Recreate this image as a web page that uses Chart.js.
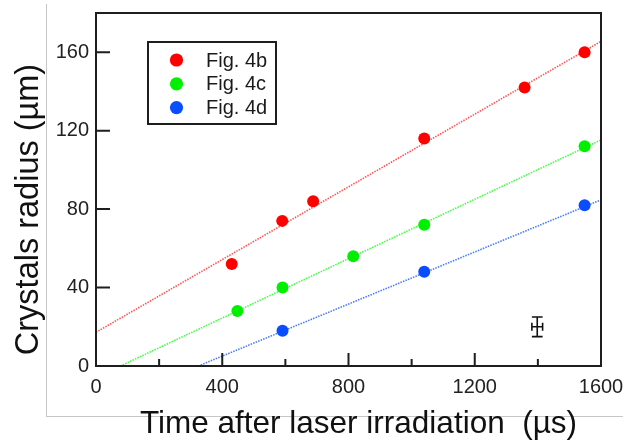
<!DOCTYPE html>
<html><head><meta charset="utf-8">
<script src="https://cdn.jsdelivr.net/npm/chart.js@4"></script>
<style>
html,body{margin:0;padding:0;background:#fff;}
#wrap{position:relative;width:639px;height:445px;overflow:hidden;}
#frame{position:absolute;left:46px;top:4px;width:577px;height:413px;border-left:1px solid #c6c6c6;border-bottom:1px solid #c6c6c6;box-sizing:border-box;}
canvas{position:absolute;left:0;top:0;}
</style></head><body>
<div id="wrap"><div id="frame"></div><canvas id="c" width="639" height="445"></canvas></div>
<script>
// ---- data ----
const seriesLabels = ['Fig. 4b', 'Fig. 4c', 'Fig. 4d'];
const timesB = [430, 590, 688, 1040, 1358, 1548];
const radiusB = [52, 74, 84, 116, 142, 160];
const timesC = [448, 591, 815, 1040, 1548];
const radiusC = [28, 40, 56, 72, 112];
const timesD = [591, 1040, 1548];
const radiusD = [18, 48, 82];
// linear fits (end points)
const fitTimesB = [0, 1600];
const fitRadiusB = [17.2, 165.5];
const fitTimesC = [77, 1600];
const fitRadiusC = [0, 115.3];
const fitTimesD = [324, 1600];
const fitRadiusD = [0, 84.7];
// typical error bar
const errTime = [1398];
const errRadius = [20];
const errTimeHalf = [17];
const errRadiusHalf = [5];
// ticks
const xTicks = [0, 400, 800, 1200, 1600];
const xMinorTicks = [200, 600, 1000, 1400];
const yTicks = [0, 40, 80, 120, 160];
const xTitle = 'Time after laser irradiation  (µs)';
const yTitle = 'Crystals radius (µm)';

const FONT = "'Liberation Sans', Arial, sans-serif";
const pointColors = ['#ff0000', '#00f000', '#0a4cff'];
const lineColors = ['#ff5555', '#44ff44', '#4a7cff'];

const pts = (xs, ys) => xs.map((v, i) => ({x: v, y: ys[i]}));

const pointSets = [[timesB, radiusB], [timesC, radiusC], [timesD, radiusD]];
const fitSets = [[fitTimesB, fitRadiusB], [fitTimesC, fitRadiusC], [fitTimesD, fitRadiusD]];

const datasets = [];
pointSets.forEach((s, i) => datasets.push({
  label: seriesLabels[i], data: pts(s[0], s[1]), showLine: false,
  backgroundColor: pointColors[i], borderColor: pointColors[i],
  pointRadius: 6, pointBorderWidth: 0
}));
fitSets.forEach((s, i) => datasets.push({
  label: seriesLabels[i] + ' fit', data: pts(s[0], s[1]), showLine: true,
  borderColor: lineColors[i], borderWidth: 1.6, borderDash: [1.5, 1.2],
  pointRadius: 0, fill: false
}));

const decor = {
  id: 'decor',
  afterDraw(chart) {
    const {ctx, chartArea: a, scales: {x, y}} = chart;
    ctx.save();
    // frame
    ctx.strokeStyle = '#1e1e1e'; ctx.lineWidth = 2;
    ctx.strokeRect(a.left, a.top, a.right - a.left, a.bottom - a.top);
    // inward ticks
    ctx.beginPath();
    x.ticks.forEach(t => { const p = x.getPixelForValue(t.value); ctx.moveTo(p, a.bottom); ctx.lineTo(p, a.bottom - 13); });
    xMinorTicks.forEach(v => { const p = x.getPixelForValue(v); ctx.moveTo(p, a.bottom); ctx.lineTo(p, a.bottom - 7); });
    y.ticks.forEach(t => { const p = y.getPixelForValue(t.value); ctx.moveTo(a.left, p); ctx.lineTo(a.left + 14, p); });
    ctx.stroke();
    // error bar
    ctx.lineWidth = 1.6; ctx.strokeStyle = '#111';
    errTime.forEach((t, i) => {
      const cx = x.getPixelForValue(t), cy = y.getPixelForValue(errRadius[i]);
      const x0 = x.getPixelForValue(t - errTimeHalf[i]), x1 = x.getPixelForValue(t + errTimeHalf[i]);
      const y0 = y.getPixelForValue(errRadius[i] + errRadiusHalf[i]), y1 = y.getPixelForValue(errRadius[i] - errRadiusHalf[i]);
      ctx.beginPath();
      ctx.moveTo(cx, y0); ctx.lineTo(cx, y1);
      ctx.moveTo(x0, cy); ctx.lineTo(x1, cy);
      ctx.moveTo(x0, y0); ctx.lineTo(x1, y0);
      ctx.moveTo(x0, y1); ctx.lineTo(x1, y1);
      ctx.moveTo(x0, cy - 4); ctx.lineTo(x0, cy + 4);
      ctx.moveTo(x1, cy - 4); ctx.lineTo(x1, cy + 4);
      ctx.stroke();
    });
    // legend
    const lx = a.left + 52, ly = a.top + 29, lw = 128, lh = 82;
    ctx.lineWidth = 2; ctx.strokeStyle = '#1e1e1e';
    ctx.strokeRect(lx, ly, lw, lh);
    ctx.font = '20px ' + FONT;
    ctx.textAlign = 'left'; ctx.textBaseline = 'middle';
    for (let i = 0; i < 3; i++) {
      const ds = chart.data.datasets[i];
      const my = ly + 18 + i * 23.8;
      ctx.beginPath(); ctx.fillStyle = ds.backgroundColor;
      ctx.arc(lx + 28.5, my, 6.6, 0, Math.PI * 2); ctx.fill();
      ctx.fillStyle = '#1a1a1a';
      ctx.fillText(ds.label, lx + 58, my + 1);
    }
    // axis titles
    ctx.fillStyle = '#111';
    ctx.textAlign = 'center'; ctx.textBaseline = 'alphabetic';
    ctx.font = '31.5px ' + FONT;
    ctx.fillText(xTitle, (a.left + a.right) / 2 + 10, 433);
    ctx.font = '32.5px ' + FONT;
    ctx.translate(38, (a.top + a.bottom) / 2 + 20);
    ctx.rotate(-Math.PI / 2);
    ctx.fillText(yTitle, 0, 0);
    ctx.restore();
  }
};

new Chart(document.getElementById('c'), {
  type: 'scatter',
  data: {datasets},
  options: {
    responsive: false, animation: false, devicePixelRatio: 1,
    layout: {padding: {left: 0, top: 13, right: 38, bottom: 0}},
    plugins: {legend: {display: false}, tooltip: {enabled: false}},
    scales: {
      x: {
        type: 'linear', min: 0, max: 1600,
        grid: {display: false, drawTicks: false}, border: {display: false},
        afterBuildTicks: s => { s.ticks = xTicks.map(v => ({value: v})); },
        ticks: {padding: 9, color: '#222', font: {size: 20, family: FONT}, maxRotation: 0, autoSkip: false,
                callback: v => String(v)},
        afterFit: s => { s.height = 79; s.paddingLeft = 0; s.paddingRight = 0; }
      },
      y: {
        type: 'linear', min: 0, max: 180,
        grid: {display: false, drawTicks: false}, border: {display: false},
        afterBuildTicks: s => { s.ticks = yTicks.map(v => ({value: v})); },
        ticks: {padding: 7, color: '#222', font: {size: 20, family: FONT}, autoSkip: false,
                callback: v => String(v)},
        afterFit: s => { s.width = 96; s.paddingTop = 0; s.paddingBottom = 0; }
      }
    }
  },
  plugins: [decor]
});
</script></body></html>
